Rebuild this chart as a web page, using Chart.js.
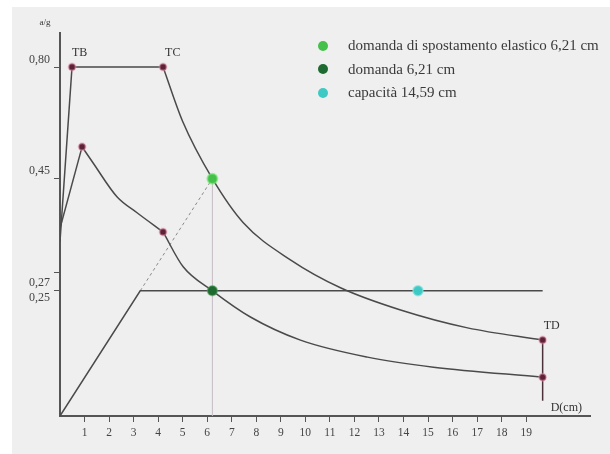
<!DOCTYPE html>
<html>
<head>
<meta charset="utf-8">
<script src="https://cdn.jsdelivr.net/npm/chart.js@4/dist/chart.umd.min.js"></script>
<style>
  html, body { margin: 0; padding: 0; background: #fff; }
  #wrap { position: relative; width: 610px; height: 454px; }
  #legend { position: absolute; left: 318px; top: 34px; font-family: 'Liberation Serif', 'DejaVu Serif', serif; font-size: 15px; color: #3a3a3a; }
  #legend div { display: flex; align-items: center; height: 23.5px; white-space: nowrap; }
  #legend .m { width: 10px; height: 10px; border-radius: 50%; margin-right: 20px; box-sizing: border-box; }
</style>
</head>
<body>
<div id="wrap">
  <canvas id="c" width="610" height="454"></canvas>
  <div id="legend"></div>
</div>
<script>
// spettro elastico / anelastico e curva di capacità (a/g vs D)

// spettro elastico (curva superiore)
const elasticT  = [0, 0.49, 4.20, 5.00, 6.21, 7.47, 9.39, 11.43, 13.88, 16.61, 19.67];
const elasticSa = [0.40, 0.80, 0.80, 0.675, 0.544, 0.443, 0.358, 0.294, 0.243, 0.202, 0.174];

// spettro ridotto (curva inferiore)
const inelT  = [0, 0.90, 1.35, 2.33, 3.14, 4.20, 5.02, 6.21, 7.76, 9.80, 12.53, 15.22, 19.67];
const inelSa = [0.43, 0.617, 0.580, 0.502, 0.466, 0.422, 0.342, 0.287, 0.227, 0.174, 0.135, 0.112, 0.089];

// curva di capacità bilineare
const capD  = [0, 3.27, 19.67];
const capSa = [0, 0.287, 0.287];

// punti di domanda / capacità
const dElastic = { x: 6.21, y: 0.544 };
const dDemand  = { x: 6.21, y: 0.287 };
const dCap     = { x: 14.59, y: 0.287 };
const tdBottom = 0.035;

const xTicks = [1, 2, 3, 4, 5, 6, 7, 8, 9, 10, 11, 12, 13, 14, 15, 16, 17, 18, 19];
const yTickPos   = [0.80, 0.544, 0.328, 0.287];
const yLabelPos  = [0.817, 0.562, 0.305, 0.271];
const yLabelText = ['0,80', '0,45', '0,27', '0,25'];

const X_MAX = 21.6, Y_MAX = 0.878;

const COLORS = {
  line:   '#4a4a4a',
  axis:   '#555555',
  maroon: '#5b2333',
  halo:   'rgba(240,150,185,0.45)',
  green:  '#45c04a',
  dark:   '#1f6a30',
  cyan:   '#3fc9c4',
};
const SERIF = "'Liberation Serif', 'DejaVu Serif', serif";

const pts = (xs, ys, a = 0, b = xs.length) => xs.slice(a, b).map((x, i) => ({ x, y: ys[a + i] }));

function lineSet(data, extra) {
  return Object.assign({
    data, showLine: true, pointRadius: 0, borderColor: COLORS.line,
    borderWidth: 1.5, tension: 0, fill: false, order: 5,
  }, extra || {});
}

const last = elasticT.length - 1, lastI = inelT.length - 1;
const markerPts = [
  { x: elasticT[1], y: elasticSa[1] }, { x: elasticT[2], y: elasticSa[2] }, { x: elasticT[last], y: elasticSa[last] },
  { x: inelT[1], y: inelSa[1] }, { x: inelT[5], y: inelSa[5] }, { x: inelT[lastI], y: inelSa[lastI] },
];

const datasets = [
  lineSet(pts(elasticT, elasticSa, 0, 3)),
  lineSet(pts(elasticT, elasticSa, 2), { cubicInterpolationMode: 'monotone' }),
  lineSet(pts(inelT, inelSa, 0, 2)),
  lineSet(pts(inelT, inelSa, 1, 6), { cubicInterpolationMode: 'monotone' }),
  lineSet(pts(inelT, inelSa, 5), { cubicInterpolationMode: 'monotone' }),
  lineSet(pts(capD, capSa)),
  lineSet([{ x: capD[1], y: capSa[1] }, dElastic], { borderColor: '#8a8a8a', borderWidth: 1, borderDash: [3, 3] }),
  lineSet([{ x: dElastic.x, y: 0 }, dElastic], { borderColor: '#c4bcc4', borderWidth: 1 }),
  lineSet([{ x: elasticT[last], y: tdBottom }, { x: elasticT[last], y: elasticSa[last] }], { borderColor: '#4a3038' }),
  { data: markerPts, showLine: false, pointRadius: 3.5, pointBackgroundColor: COLORS.maroon,
    pointBorderColor: COLORS.halo, pointBorderWidth: 2, order: 1 },
  { label: 'domanda di spostamento elastico 6,21 cm', legend: true, data: [dElastic], showLine: false,
    pointRadius: 5, pointBackgroundColor: COLORS.green, pointBorderColor: 'rgba(120,230,120,0.6)', pointBorderWidth: 2, order: 0 },
  { label: 'domanda 6,21 cm', legend: true, data: [dDemand], showLine: false,
    pointRadius: 5, pointBackgroundColor: COLORS.dark, pointBorderColor: 'rgba(90,170,100,0.5)', pointBorderWidth: 1.5, order: 0 },
  { label: 'capacità 14,59 cm', legend: true, data: [dCap], showLine: false,
    pointRadius: 5, pointBackgroundColor: COLORS.cyan, pointBorderColor: 'rgba(130,225,220,0.7)', pointBorderWidth: 1.5, order: 0 },
];

// sfondo grigio con bordo bianco
const paperBg = {
  id: 'paperBg',
  beforeDraw(chart) {
    const { ctx, width, height } = chart;
    ctx.save();
    ctx.fillStyle = '#ffffff';
    ctx.fillRect(0, 0, width, height);
    ctx.fillStyle = '#efefef';
    ctx.fillRect(12, 7, width - 12, height - 7);
    ctx.restore();
  }
};

// etichette TB, TC, TD e titoli degli assi
const notes = {
  id: 'notes',
  afterDraw(chart) {
    const { ctx, scales: { x, y } } = chart;
    const put = (txt, px, py, size, align) => {
      ctx.save();
      ctx.font = size + 'px ' + SERIF;
      ctx.fillStyle = '#333';
      ctx.textAlign = align || 'left';
      ctx.textBaseline = 'middle';
      ctx.fillText(txt, px, py);
      ctx.restore();
    };
    put('TB', x.getPixelForValue(elasticT[1]), y.getPixelForValue(elasticSa[1]) - 14, 12);
    put('TC', x.getPixelForValue(elasticT[2]) + 2, y.getPixelForValue(elasticSa[2]) - 14, 12);
    put('TD', x.getPixelForValue(elasticT[last]) + 1, y.getPixelForValue(elasticSa[last]) - 14, 12);
    put('D(cm)', x.getPixelForValue(elasticT[last]) + 8, y.getPixelForValue(0) - 8, 12);
    put('a/g', x.left - 15, y.top - 10, 9, 'center');
  }
};

const chart = new Chart(document.getElementById('c').getContext('2d'), {
  type: 'scatter',
  data: { datasets },
  options: {
    responsive: false,
    animation: false,
    layout: { padding: { top: 33, right: 20, left: 0, bottom: 0 } },
    plugins: { legend: { display: false }, tooltip: { enabled: false } },
    scales: {
      x: {
        type: 'linear', position: 'bottom', min: 0, max: X_MAX,
        afterBuildTicks: s => { s.ticks = xTicks.map(v => ({ value: v })); },
        afterFit: s => { s.height = 38; },
        grid: { drawOnChartArea: false, tickLength: 6, color: COLORS.axis },
        border: { color: COLORS.axis, width: 2 },
        ticks: { font: { family: SERIF, size: 11.5 }, color: '#444', padding: 4, maxRotation: 0 },
      },
      y: {
        type: 'linear', position: 'left', min: 0, max: Y_MAX, weight: 0,
        afterBuildTicks: s => { s.ticks = yTickPos.map(v => ({ value: v })); },
        afterFit: s => { s.width = 6; },
        grid: { drawOnChartArea: false, tickLength: 6, color: COLORS.axis },
        border: { color: COLORS.axis, width: 2 },
        ticks: { display: false },
      },
      yl: {
        type: 'linear', position: 'left', min: 0, max: Y_MAX, weight: 1,
        afterBuildTicks: s => { s.ticks = yLabelPos.map(v => ({ value: v })); },
        afterFit: s => { s.width = 54; },
        grid: { display: false, drawTicks: false },
        border: { display: false },
        ticks: { font: { family: SERIF, size: 12 }, color: '#444', padding: 4,
          callback: (v, i) => yLabelText[i] },
      },
    },
  },
  plugins: [paperBg, notes],
});

// legenda HTML
const legend = document.getElementById('legend');
chart.data.datasets.filter(d => d.legend).forEach(d => {
  const row = document.createElement('div');
  const m = document.createElement('span');
  m.className = 'm';
  m.style.background = d.pointBackgroundColor;
  row.appendChild(m);
  row.appendChild(document.createTextNode(d.label));
  legend.appendChild(row);
});
</script>
</body>
</html>
